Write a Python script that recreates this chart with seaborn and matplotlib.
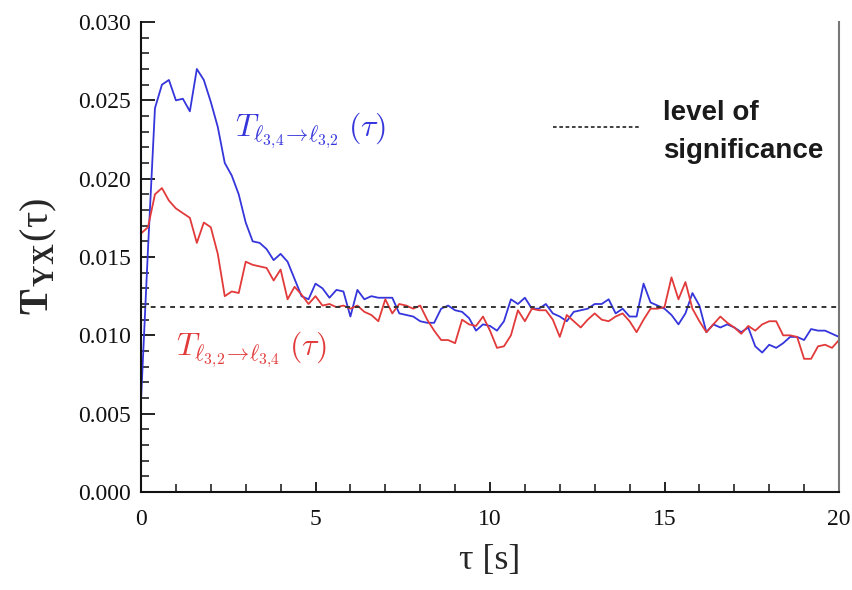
import numpy as np
import pandas as pd
import matplotlib
matplotlib.use("Agg")
import matplotlib.pyplot as plt
from matplotlib.ticker import MultipleLocator
import seaborn as sns

tau = [round(0.2 * i, 1) for i in range(101)]

blue_34_32 = [
    0.0058, 0.0155, 0.0245, 0.0260, 0.0263, 0.0250, 0.0251, 0.0243, 0.0270, 0.0263,
    0.0249, 0.0233, 0.0210, 0.0202, 0.0190, 0.0172, 0.0160, 0.0159, 0.0155, 0.0148,
    0.0152, 0.0147, 0.0136, 0.0125, 0.0123, 0.0133, 0.0130, 0.0124, 0.0129, 0.0128,
    0.0112, 0.0129, 0.0123, 0.0125, 0.0124, 0.0124, 0.0124, 0.0114, 0.0113, 0.0112,
    0.0109, 0.0108, 0.0108, 0.0117, 0.0119, 0.0116, 0.0115, 0.0111, 0.0103, 0.0107,
    0.0106, 0.0103, 0.0109, 0.0123, 0.0120, 0.0124, 0.0117, 0.0117, 0.0120, 0.0114,
    0.0112, 0.0109, 0.0115, 0.0116, 0.0117, 0.0120, 0.0120, 0.0123, 0.0114, 0.0117,
    0.0112, 0.0112, 0.0133, 0.0121, 0.0119, 0.0117, 0.0113, 0.0107, 0.0114, 0.0127,
    0.0119, 0.0102, 0.0107, 0.0105, 0.0107, 0.0105, 0.0102, 0.0105, 0.0093, 0.0089,
    0.0094, 0.0092, 0.0095, 0.0099, 0.0099, 0.0097, 0.0104, 0.0103, 0.0103, 0.0101,
    0.0099,
]

red_32_34 = [
    0.0165, 0.0169, 0.0190, 0.0194, 0.0186, 0.0181, 0.0178, 0.0175, 0.0159, 0.0172,
    0.0169, 0.0152, 0.0125, 0.0128, 0.0127, 0.0147, 0.0145, 0.0144, 0.0143, 0.0135,
    0.0142, 0.0123, 0.0131, 0.0126, 0.0120, 0.0125, 0.0119, 0.0120, 0.0118, 0.0119,
    0.0117, 0.0119, 0.0115, 0.0113, 0.0109, 0.0123, 0.0114, 0.0120, 0.0119, 0.0117,
    0.0119, 0.0110, 0.0103, 0.0097, 0.0097, 0.0095, 0.0110, 0.0107, 0.0106, 0.0112,
    0.0103, 0.0092, 0.0093, 0.0100, 0.0116, 0.0109, 0.0117, 0.0116, 0.0116, 0.0110,
    0.0099, 0.0113, 0.0109, 0.0105, 0.0110, 0.0114, 0.0110, 0.0109, 0.0112, 0.0114,
    0.0109, 0.0102, 0.0110, 0.0117, 0.0117, 0.0118, 0.0137, 0.0123, 0.0134, 0.0117,
    0.0109, 0.0102, 0.0107, 0.0112, 0.0108, 0.0105, 0.0101, 0.0106, 0.0103, 0.0107,
    0.0109, 0.0109, 0.0100, 0.0100, 0.0099, 0.0085, 0.0085, 0.0093, 0.0094, 0.0092,
    0.0097,
]

significance_level = 0.0118

x_ticks = [0, 5, 10, 15, 20]
x_ticklabels = ["0", "5", "10", "15", "20"]
y_ticks = [0.000, 0.005, 0.010, 0.015, 0.020, 0.025, 0.030]
y_ticklabels = ["0.000", "0.005", "0.010", "0.015", "0.020", "0.025", "0.030"]

label_blue = r"$T_{\ell_{3{,}4}\!\rightarrow\!\ell_{3{,}2}}\;(\tau)$"
label_red = r"$T_{\ell_{3{,}2}\!\rightarrow\!\ell_{3{,}4}}\;(\tau)$"
legend_text = "level of\nsignificance"
xlabel = "τ [s]"
ylabel = r"$\mathbf{T}_{\mathbf{YX}}$(τ)"

sns.set_theme(style="ticks")
plt.rcParams["font.family"] = ["Liberation Serif", "DejaVu Serif"]
plt.rcParams["mathtext.fontset"] = "cm"

df = pd.DataFrame({
    "tau": tau * 2,
    "T": blue_34_32 + red_32_34,
    "series": ["blue"] * len(tau) + ["red"] * len(tau),
})

fig = plt.figure(figsize=(8.52, 5.90), dpi=100)
ax = fig.add_axes([141 / 852, 1 - 492 / 590, (839 - 141) / 852, (492 - 22) / 590])

sns.lineplot(data=df, x="tau", y="T", hue="series",
             palette={"blue": "#3535dc", "red": "#e23a3a"},
             linewidth=1.3, legend=False, ax=ax, estimator=None)

ax.axhline(significance_level, color="#333333", lw=1.4, ls=(0, (2.5, 2.5)))

ax.set_xlim(0, 20)
ax.set_ylim(0, 0.030)
ax.set_xticks(x_ticks)
ax.set_xticklabels(x_ticklabels)
ax.set_yticks(y_ticks)
ax.set_yticklabels(y_ticklabels)
ax.xaxis.set_minor_locator(MultipleLocator(1))
ax.yaxis.set_minor_locator(MultipleLocator(0.001))
ax.tick_params(axis="both", which="major", direction="in", length=10, width=1.3,
               labelsize=17, colors="#111111", pad=7)
ax.tick_params(axis="both", which="minor", direction="in", length=6, width=1.1,
               colors="#111111")
ax.tick_params(axis="x", which="major", length=7, pad=12)
ax.tick_params(axis="y", right=False, which="both")

for s in ["left", "bottom"]:
    ax.spines[s].set_color("#111111")
    ax.spines[s].set_linewidth(1.5)
ax.spines["top"].set_visible(False)
ax.spines["right"].set_color("#777777")
ax.spines["right"].set_linewidth(1.5)

ax.set_xlabel(xlabel, fontsize=26, labelpad=10)
ax.set_ylabel(ylabel, fontsize=29, labelpad=14)

ax.text(2.7, 0.0231, label_blue, color="#3535dc", fontsize=23, va="center", ha="left")
ax.text(1.0, 0.0091, label_red, color="#e23a3a", fontsize=23, va="center", ha="left")

ax.plot([11.8, 14.3], [0.0233, 0.0233], color="#333333", lw=1.3, ls=(0, (2, 1.5)))
ax.text(14.95, 0.0230, legend_text, fontsize=20, fontweight="bold",
        family=["Liberation Sans", "DejaVu Sans"], color="#1a1a1a",
        va="center", ha="left", linespacing=1.6)

fig.savefig("out.png", dpi=100)
